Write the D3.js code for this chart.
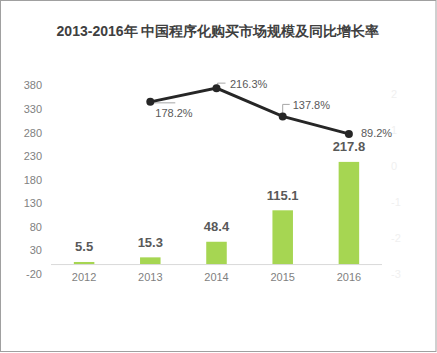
<!DOCTYPE html>
<html>
<head>
<meta charset="utf-8">
<script src="https://cdn.jsdelivr.net/npm/d3@7"></script>
<style>
  body { margin: 0; background: #fff; }
  text { font-family: "Liberation Sans", Arial, sans-serif; }
</style>
</head>
<body>
<div id="chart"></div>
<script>
// Data
const years = ["2012", "2013", "2014", "2015", "2016"];
const marketSize = [5.5, 15.3, 48.4, 115.1, 217.8];       // 市场规模 (bars, left axis)
const growthRate = [null, 178.2, 216.3, 137.8, 89.2];     // 同比增长率 % (line, right axis)
const leftTicks = [-20, 30, 80, 130, 180, 230, 280, 330, 380];
const rightTicks = [-3, -2, -1, 0, 1, 2];
const title = "2013-2016年 中国程序化购买市场规模及同比增长率";

const W = 437, H = 353;
const plot = {left: 51, right: 382, top: 76, bottom: 274};

const svg = d3.select("#chart").append("svg")
  .attr("width", W)
  .attr("height", H);

// outer border
svg.append("rect")
  .attr("x", 0.5).attr("y", 0.5)
  .attr("width", W - 1.5).attr("height", H - 2)
  .attr("fill", "#fff")
  .attr("stroke", "#a0a0a0");

svg.append("text")
  .attr("x", 218).attr("y", 36)
  .attr("text-anchor", "middle")
  .attr("fill", "#404040")
  .style("font-size", "14px")
  .style("font-weight", "bold")
  .text(title);

// Scales
const x = d3.scaleBand()
  .domain(years)
  .range([plot.left, plot.right])
  .paddingInner(0.69)
  .paddingOuter(0.345);

const y = d3.scaleLinear().domain([-20, 400]).range([plot.bottom, plot.top]);
const y2 = d3.scaleLinear().domain([-3, 2.5]).range([plot.bottom, plot.top]);

const cx = (d) => x(d) + x.bandwidth() / 2;
const plain = (d) => String(d);

// Left axis (labels only)
svg.append("g")
  .attr("transform", `translate(${plot.left - 9},0)`)
  .call(d3.axisLeft(y).tickValues(leftTicks).tickFormat(plain).tickSize(0).tickPadding(0))
  .call((g) => g.select(".domain").remove())
  .selectAll("text")
  .attr("fill", "#7f7f7f")
  .style("font-size", "11px")
  .style("font-family", "Liberation Sans, Arial, sans-serif");

// Right axis (almost invisible labels)
svg.append("g")
  .attr("transform", `translate(${plot.right + 9},0)`)
  .call(d3.axisRight(y2).tickValues(rightTicks).tickFormat(plain).tickSize(0).tickPadding(0))
  .call((g) => g.select(".domain").remove())
  .selectAll("text")
  .attr("fill", "#f0f0f0")
  .style("font-size", "11px")
  .style("font-family", "Liberation Sans, Arial, sans-serif");

// Bars
svg.append("g")
  .selectAll("rect")
  .data(marketSize)
  .join("rect")
  .attr("x", (d, i) => x(years[i]))
  .attr("width", x.bandwidth())
  .attr("y", (d) => y(d))
  .attr("height", (d) => y(0) - y(d))
  .attr("fill", "#a6d652");

// baseline
svg.append("line")
  .attr("x1", plot.left).attr("x2", plot.right)
  .attr("y1", y(0)).attr("y2", y(0))
  .attr("stroke", "#d9d9d9")
  .attr("stroke-width", 1);

// X axis labels
svg.append("g")
  .attr("transform", `translate(0,${y(0) + 9})`)
  .call(d3.axisBottom(x).tickSize(0).tickPadding(0))
  .call((g) => g.select(".domain").remove())
  .selectAll("text")
  .attr("fill", "#7f7f7f")
  .style("font-size", "11px")
  .style("font-family", "Liberation Sans, Arial, sans-serif");

// Bar value labels
svg.append("g")
  .selectAll("text")
  .data(marketSize)
  .join("text")
  .attr("x", (d, i) => cx(years[i]))
  .attr("y", (d) => y(d) - 10.5)
  .attr("text-anchor", "middle")
  .attr("fill", "#595959")
  .style("font-size", "13px")
  .style("font-weight", "bold")
  .text((d) => d.toFixed(1));

// Growth line
const lineData = years.map((yr, i) => ({year: yr, v: growthRate[i]}));
const line = d3.line()
  .defined((d) => d.v != null)
  .x((d) => cx(d.year))
  .y((d) => y2(d.v / 100));

// leader lines + label offsets (dx, dy from the point)
const labelPos = [null, [5, 15.5], [13.5, -0.5], [10, -7], [12, 3.5]];
const leaders = [
  null,
  [[0, 1], [25, 1]],
  [[0, 0], [1, -5], [9, -5]],
  [[0, 0], [0, -12], [7, -12]],
  null,
];

lineData.forEach((d, i) => {
  if (!leaders[i]) return;
  const px = cx(d.year), py = y2(d.v / 100);
  svg.append("path")
    .attr("d", d3.line()(leaders[i].map(([a, b]) => [px + a, py + b])))
    .attr("fill", "none")
    .attr("stroke", "#a6a6a6")
    .attr("stroke-width", 1);
});

svg.append("path")
  .datum(lineData)
  .attr("fill", "none")
  .attr("stroke", "#262626")
  .attr("stroke-width", 3)
  .attr("d", line);

svg.append("g")
  .selectAll("circle")
  .data(lineData.filter((d) => d.v != null))
  .join("circle")
  .attr("cx", (d) => cx(d.year))
  .attr("cy", (d) => y2(d.v / 100))
  .attr("r", 4)
  .attr("fill", "#262626");

svg.append("g")
  .selectAll("text")
  .data(lineData.filter((d) => d.v != null))
  .join("text")
  .attr("x", (d) => cx(d.year) + labelPos[years.indexOf(d.year)][0])
  .attr("y", (d) => y2(d.v / 100) + labelPos[years.indexOf(d.year)][1])
  .attr("fill", "#595959")
  .style("font-size", "11px")
  .text((d) => d.v.toFixed(1) + "%");
</script>
</body>
</html>
